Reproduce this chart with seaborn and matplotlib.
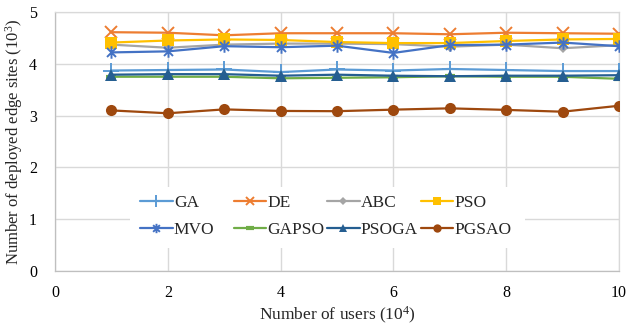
import matplotlib
matplotlib.use("Agg")
import matplotlib.pyplot as plt
from matplotlib.path import Path
from matplotlib.patches import Rectangle
from matplotlib.lines import Line2D
from matplotlib.legend import Legend
import seaborn as sns
import pandas as pd

users = [1, 2, 3, 4, 5, 6, 7, 8, 9, 10]

ga    = [3.87, 3.88, 3.89, 3.84, 3.89, 3.87, 3.90, 3.88, 3.86, 3.86]
de    = [4.61, 4.60, 4.55, 4.59, 4.59, 4.59, 4.57, 4.60, 4.59, 4.58]
abc   = [4.37, 4.31, 4.37, 4.39, 4.39, 4.38, 4.33, 4.37, 4.30, 4.36]
pso   = [4.41, 4.45, 4.47, 4.46, 4.42, 4.40, 4.40, 4.44, 4.47, 4.48]
mvo   = [4.22, 4.24, 4.34, 4.32, 4.35, 4.21, 4.36, 4.37, 4.41, 4.34]
gapso = [3.75, 3.75, 3.75, 3.72, 3.73, 3.74, 3.76, 3.75, 3.75, 3.71]
psoga = [3.79, 3.80, 3.80, 3.77, 3.79, 3.77, 3.76, 3.77, 3.77, 3.78]
pgsao = [3.10, 3.045, 3.12, 3.09, 3.085, 3.115, 3.14, 3.11, 3.075, 3.19]

names = ["GA", "DE", "ABC", "PSO", "MVO", "GAPSO", "PSOGA", "PGSAO"]
series = [ga, de, abc, pso, mvo, gapso, psoga, pgsao]

x_ticks = [0, 2, 4, 6, 8, 10]
y_ticks = [0, 1, 2, 3, 4, 5]

# asterisk marker: vertical bar plus a cross
star = Path(
    [(0, -1), (0, 1), (-0.72, -0.72), (0.72, 0.72), (-0.72, 0.72), (0.72, -0.72)],
    [Path.MOVETO, Path.LINETO, Path.MOVETO, Path.LINETO, Path.MOVETO, Path.LINETO],
)

styles = {
    "GA":    dict(color="#5B9BD5", marker="+", ms=11, mew=1.4),
    "DE":    dict(color="#ED7D31", marker="x", ms=8, mew=1.4),
    "ABC":   dict(color="#A5A5A5", marker="D", ms=5, mew=0),
    "PSO":   dict(color="#FFC000", marker="s", ms=8, mew=0),
    "MVO":   dict(color="#4472C4", marker=star, ms=9, mew=1.4),
    "GAPSO": dict(color="#70AD47", marker="_", ms=7, mew=3),
    "PSOGA": dict(color="#255E91", marker="^", ms=8, mew=0),
    "PGSAO": dict(color="#9E480E", marker="o", ms=8, mew=0),
}

sns.set_theme(style="white")
plt.rcParams["font.family"] = ["Liberation Serif", "DejaVu Serif"]
plt.rcParams["mathtext.fontset"] = "custom"
plt.rcParams["mathtext.rm"] = "Liberation Serif"
plt.rcParams["mathtext.default"] = "rm"

fig = plt.figure(figsize=(6.28, 3.29), dpi=100)
ax = fig.add_axes([55 / 628, 1 - 271 / 329, 564 / 628, 259 / 329])

handles = []
for name, vals in zip(names, series):
    st = styles[name]
    df = pd.DataFrame({"users": users, "sites": vals})
    sns.lineplot(data=df, x="users", y="sites", ax=ax, color=st["color"],
                 linewidth=1.6, marker=st["marker"], markersize=st["ms"],
                 markeredgewidth=st["mew"], markeredgecolor=st["color"],
                 markerfacecolor=st["color"], zorder=3)
    handles.append(Line2D([], [], color=st["color"], linewidth=1.6,
                          marker=st["marker"], markersize=st["ms"] * 0.75,
                          markeredgewidth=st["mew"], markeredgecolor=st["color"],
                          markerfacecolor=st["color"], label=name))

ax.set_xlim(0, 10)
ax.set_ylim(0, 5)
ax.set_xticks(x_ticks)
ax.set_yticks(y_ticks)
ax.tick_params(axis="both", length=0, labelsize=11.5, colors="black")
ax.tick_params(axis="x", pad=10)
ax.tick_params(axis="y", pad=13)
ax.grid(True, color="#D9D9D9", linewidth=1.0)
ax.set_axisbelow(True)
for side in ["left", "bottom"]:
    ax.spines[side].set_color("#BFBFBF")
    ax.spines[side].set_linewidth(0.9)
for side in ["top", "right"]:
    ax.spines[side].set_color("#D9D9D9")
    ax.spines[side].set_linewidth(0.9)

ax.set_xlabel("Number of users (10$^{4}$)", fontsize=12.5, labelpad=3)
ax.set_ylabel("Number of deployed edge sites (10$^{3}$)", fontsize=12, labelpad=3)

# legend block: white background with four evenly spaced columns
ax.add_patch(Rectangle(((130 - 55) / 564, (271 - 248) / 259), 395 / 564, 61 / 259,
                       transform=ax.transAxes, facecolor="white", edgecolor="none",
                       zorder=2))
col_x = [140, 233.5, 327, 420.5]
for c in range(4):
    leg = Legend(ax, [handles[c], handles[c + 4]], [names[c], names[c + 4]],
                 loc="upper left",
                 bbox_to_anchor=((col_x[c] - 55) / 564, (271 - 195) / 259),
                 frameon=False, fontsize=12.5, handlelength=1.9,
                 handletextpad=0.05, borderpad=0, borderaxespad=0,
                 labelspacing=0.62)
    leg.set_zorder(4)
    ax.add_artist(leg)

fig.savefig("out.png", dpi=100)
